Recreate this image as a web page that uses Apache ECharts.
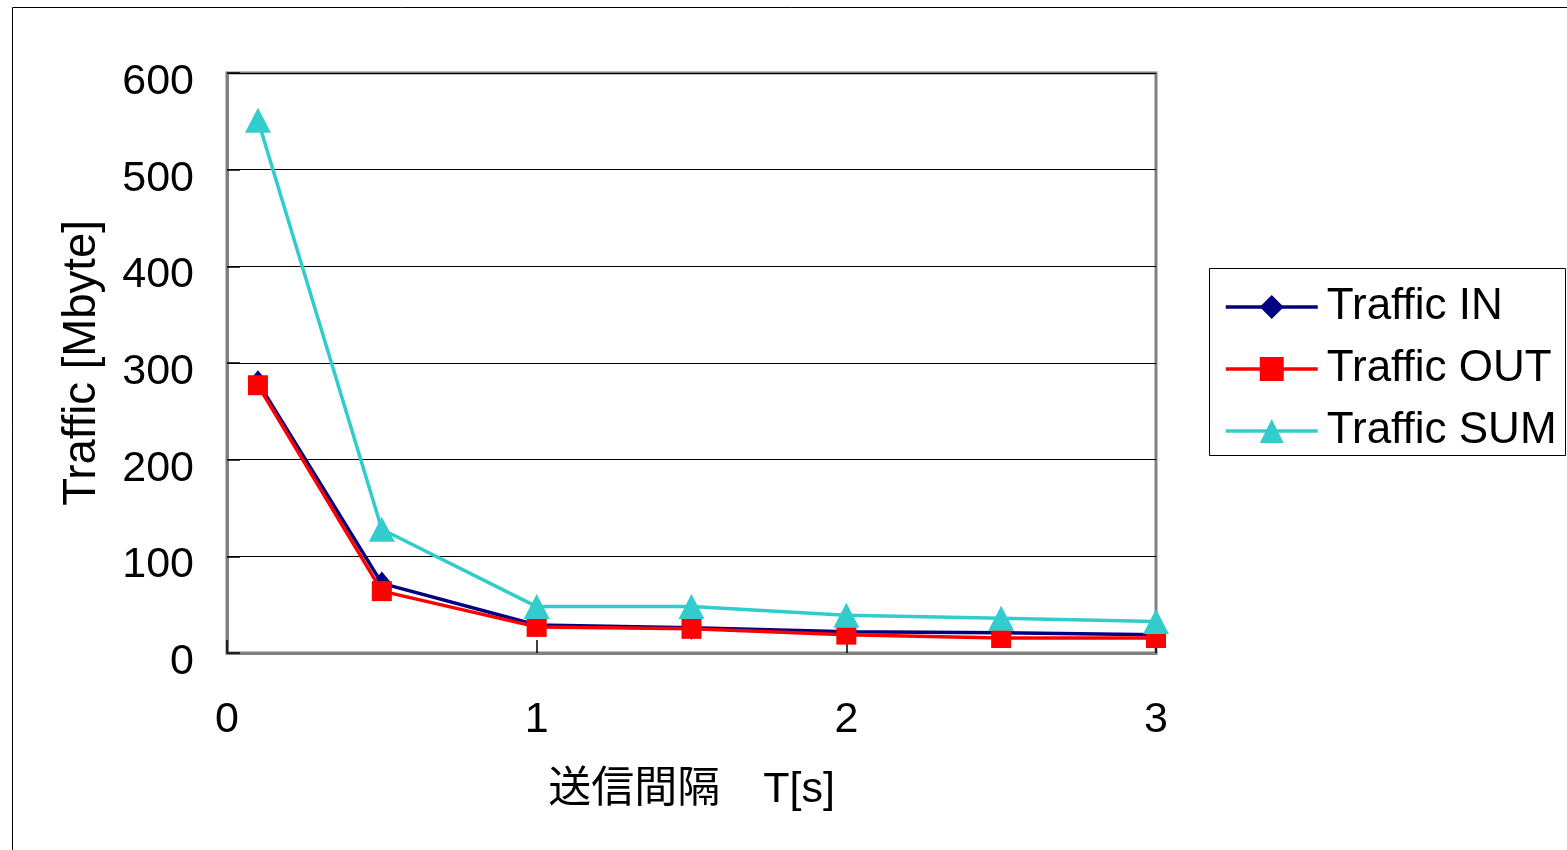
<!DOCTYPE html>
<html>
<head>
<meta charset="utf-8">
<script src="https://cdn.jsdelivr.net/npm/echarts@6/dist/echarts.min.js"></script>
<style>
  html, body { margin: 0; padding: 0; background: #fff; }
  #chart { width: 1567px; height: 850px; }
</style>
</head>
<body>
<div id="chart"></div>
<script>
// Send interval T [s]
const intervals = [0.1, 0.5, 1, 1.5, 2, 2.5, 3];
// Traffic volume [Mbyte]
const trafficIn  = [280, 72, 29, 26, 22, 21, 19];
const trafficOut = [277, 64, 27, 25, 19, 15.5, 15.5];
const trafficSum = [551, 128, 48, 48, 39, 36, 32.5];

const seriesNames = ['Traffic IN', 'Traffic OUT', 'Traffic SUM'];
const xTickValues = [0, 1, 2, 3];
const yTickValues = [0, 100, 200, 300, 400, 500, 600];

const FONT = '"Liberation Sans", Arial, "Noto Sans CJK JP", sans-serif';
const pairs = (ys) => intervals.map((x, i) => [x, ys[i]]);

const chart = echarts.init(document.getElementById('chart'), null, { renderer: 'canvas' });

chart.setOption({
  animation: false,
  backgroundColor: '#ffffff',
  textStyle: { fontFamily: FONT },
  graphic: [
    {
      type: 'rect',
      shape: { x: 12.5, y: 7.5, width: 1600, height: 900 },
      style: { fill: 'none', stroke: '#000', lineWidth: 1 },
      z: 0
    },
    {
      type: 'rect',
      shape: { x: 1209.5, y: 268.5, width: 356, height: 187 },
      style: { fill: '#fff', stroke: '#000', lineWidth: 1 },
      z: 0
    }
  ],
  grid: {
    left: 227, top: 73, right: 411, bottom: 197,
    show: true, borderColor: '#808080', borderWidth: 3, backgroundColor: '#fff'
  },
  legend: {
    orient: 'vertical',
    left: 1219, top: 280,
    itemWidth: 92, itemHeight: 30, itemGap: 18,
    lineStyle: { width: 3.5 },
    textStyle: { fontSize: 44, color: '#000', fontFamily: FONT, padding: [0, 0, 0, 4] },
    data: seriesNames
  },
  xAxis: {
    type: 'value',
    min: 0, max: 3, interval: 1,
    name: '送信間隔\u3000T[s]',
    nameLocation: 'middle',
    nameGap: 116,
    nameTextStyle: { fontSize: 43, color: '#000', fontFamily: FONT },
    axisLine: { show: true, lineStyle: { color: '#808080', width: 3 } },
    axisTick: { show: true, inside: true, length: 13, lineStyle: { color: '#000', width: 1.5 } },
    axisLabel: {
      fontSize: 43, color: '#000', margin: 46,
      formatter: (v) => xTickValues.includes(v) ? String(v) : ''
    },
    splitLine: { show: false }
  },
  yAxis: {
    type: 'value',
    min: 0, max: 600, interval: 100,
    name: 'Traffic [Mbyte]',
    nameLocation: 'middle',
    nameGap: 122,
    nameRotate: 90,
    nameTextStyle: { fontSize: 45.5, color: '#000', fontFamily: FONT },
    axisLine: { show: true, lineStyle: { color: '#808080', width: 3 } },
    axisTick: { show: true, inside: true, length: 13, lineStyle: { color: '#000', width: 1.5 } },
    axisLabel: {
      color: '#000', margin: 33,
      formatter: (v) => yTickValues.includes(v) ? '{t|' + v + '}' : '',
      rich: { t: { fontSize: 43, color: '#000', fontFamily: FONT, padding: [18, 0, 0, 0] } }
    },
    splitLine: { show: true, lineStyle: { color: '#000', width: 1.2 } }
  },
  series: [
    {
      name: seriesNames[0], type: 'line', data: pairs(trafficIn),
      symbol: 'diamond', symbolSize: [20, 24],
      lineStyle: { color: '#000080', width: 3.5 },
      itemStyle: { color: '#000080' }, z: 3
    },
    {
      name: seriesNames[1], type: 'line', data: pairs(trafficOut),
      symbol: 'rect', symbolSize: 20,
      lineStyle: { color: '#ff0000', width: 3.5 },
      itemStyle: { color: '#ff0000' }, z: 4
    },
    {
      name: seriesNames[2], type: 'line', data: pairs(trafficSum),
      symbol: 'triangle', symbolSize: [26, 25],
      lineStyle: { color: '#33cccc', width: 3.5 },
      itemStyle: { color: '#33cccc' }, z: 5
    }
  ]
});
</script>
</body>
</html>
